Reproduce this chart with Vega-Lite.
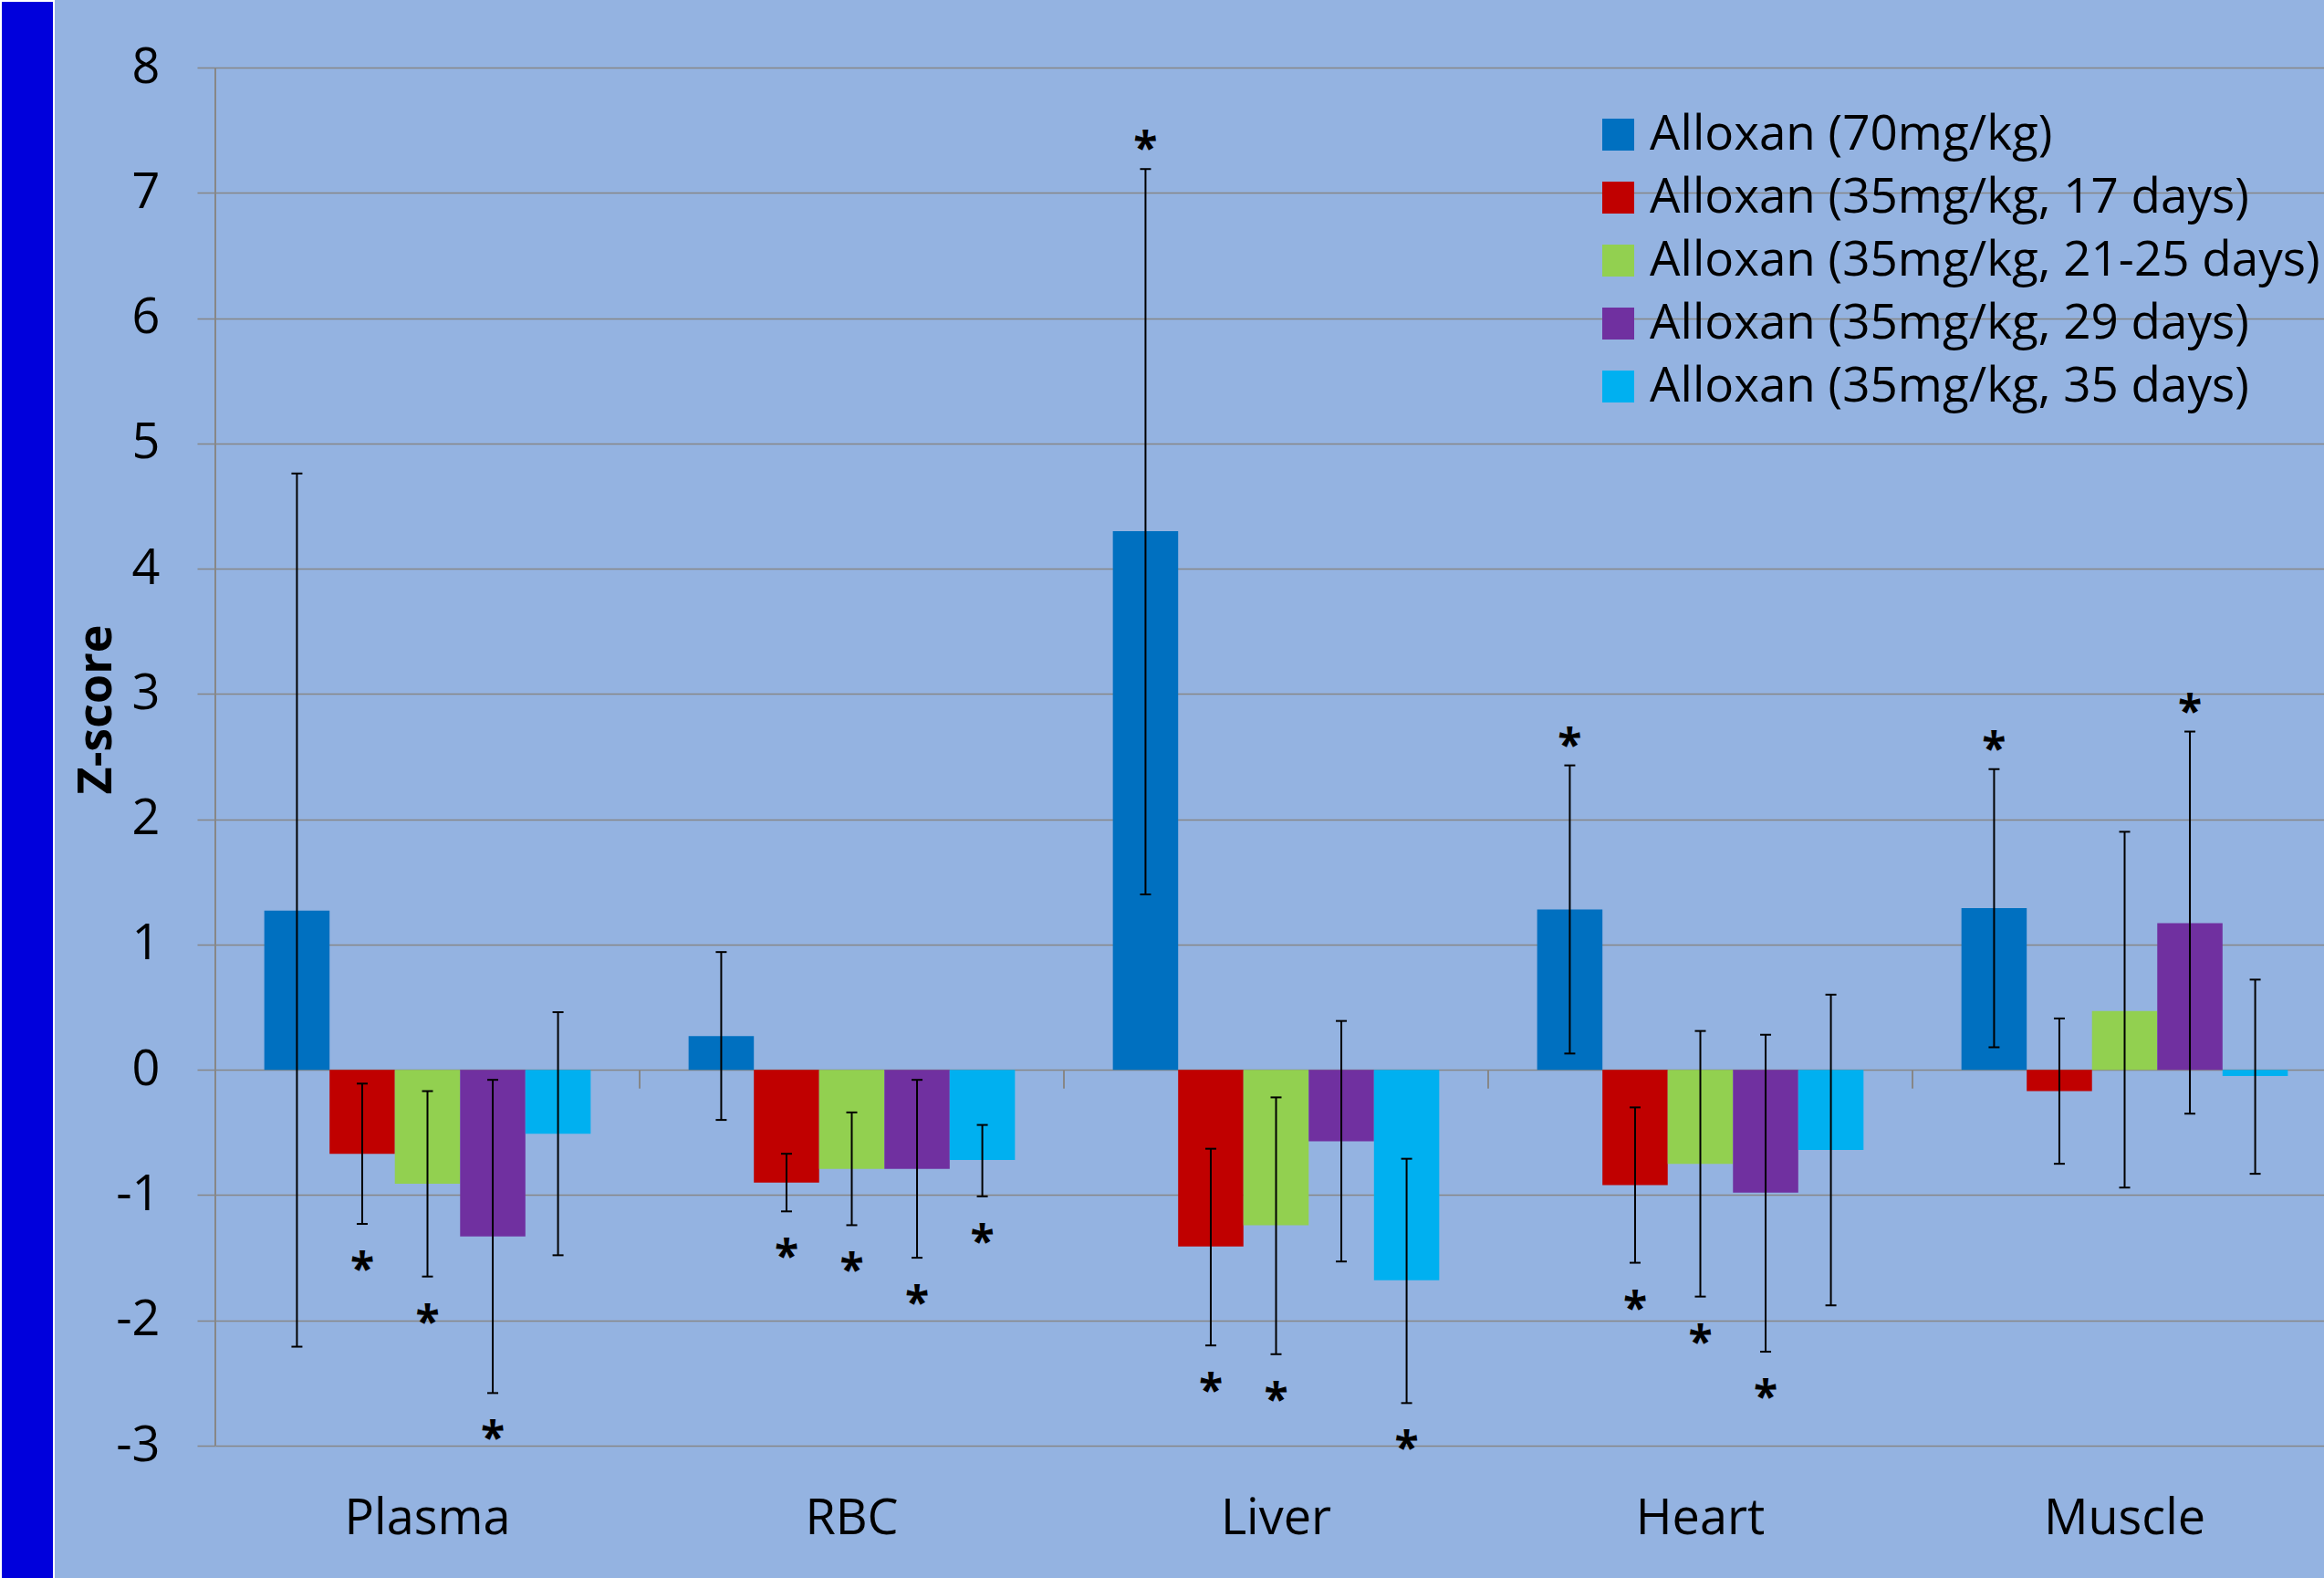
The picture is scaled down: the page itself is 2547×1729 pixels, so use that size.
{
  "$schema": "https://vega.github.io/schema/vega-lite/v6.json",
  "background": "#94B3E1",
  "padding": 0,
  "autosize": {"type": "pad"},
  "bounds": "flush",
  "spacing": 177,
  "config": {
    "view": {"stroke": null},
    "font": "Open Sans",
    "axis": {"labelFont": "Open Sans", "labelColor": "black", "titleColor": "black"},
    "legend": {"labelFont": "Open Sans", "labelColor": "black"}
  },
  "hconcat": [
    {
      "width": 58,
      "height": 1729,
      "view": {"fill": "#0000DC", "stroke": "white", "strokeWidth": 2},
      "data": {"values": [{}]},
      "mark": {"type": "text"},
      "encoding": {"text": {"value": ""}}
    },
    {
      "width": 2312,
      "height": 1583,
      "data": {
        "values": [
          {"category": "Plasma", "group": "Alloxan (70mg/kg)", "mean": 1.27, "lo": -2.21, "hi": 4.76, "star": ""},
          {"category": "Plasma", "group": "Alloxan (35mg/kg, 17 days)", "mean": -0.67, "lo": -1.23, "hi": -0.11, "star": "below"},
          {"category": "Plasma", "group": "Alloxan (35mg/kg, 21-25 days)", "mean": -0.91, "lo": -1.65, "hi": -0.17, "star": "below"},
          {"category": "Plasma", "group": "Alloxan (35mg/kg, 29 days)", "mean": -1.33, "lo": -2.58, "hi": -0.08, "star": "below"},
          {"category": "Plasma", "group": "Alloxan (35mg/kg, 35 days)", "mean": -0.51, "lo": -1.48, "hi": 0.46, "star": ""},
          {"category": "RBC", "group": "Alloxan (70mg/kg)", "mean": 0.27, "lo": -0.40, "hi": 0.94, "star": ""},
          {"category": "RBC", "group": "Alloxan (35mg/kg, 17 days)", "mean": -0.90, "lo": -1.13, "hi": -0.67, "star": "below"},
          {"category": "RBC", "group": "Alloxan (35mg/kg, 21-25 days)", "mean": -0.79, "lo": -1.24, "hi": -0.34, "star": "below"},
          {"category": "RBC", "group": "Alloxan (35mg/kg, 29 days)", "mean": -0.79, "lo": -1.50, "hi": -0.08, "star": "below"},
          {"category": "RBC", "group": "Alloxan (35mg/kg, 35 days)", "mean": -0.72, "lo": -1.01, "hi": -0.44, "star": "below"},
          {"category": "Liver", "group": "Alloxan (70mg/kg)", "mean": 4.30, "lo": 1.40, "hi": 7.19, "star": "above"},
          {"category": "Liver", "group": "Alloxan (35mg/kg, 17 days)", "mean": -1.41, "lo": -2.20, "hi": -0.63, "star": "below"},
          {"category": "Liver", "group": "Alloxan (35mg/kg, 21-25 days)", "mean": -1.24, "lo": -2.27, "hi": -0.22, "star": "below"},
          {"category": "Liver", "group": "Alloxan (35mg/kg, 29 days)", "mean": -0.57, "lo": -1.53, "hi": 0.39, "star": ""},
          {"category": "Liver", "group": "Alloxan (35mg/kg, 35 days)", "mean": -1.68, "lo": -2.66, "hi": -0.71, "star": "below"},
          {"category": "Heart", "group": "Alloxan (70mg/kg)", "mean": 1.28, "lo": 0.13, "hi": 2.43, "star": "above"},
          {"category": "Heart", "group": "Alloxan (35mg/kg, 17 days)", "mean": -0.92, "lo": -1.54, "hi": -0.30, "star": "below"},
          {"category": "Heart", "group": "Alloxan (35mg/kg, 21-25 days)", "mean": -0.75, "lo": -1.81, "hi": 0.31, "star": "below"},
          {"category": "Heart", "group": "Alloxan (35mg/kg, 29 days)", "mean": -0.98, "lo": -2.25, "hi": 0.28, "star": "below"},
          {"category": "Heart", "group": "Alloxan (35mg/kg, 35 days)", "mean": -0.64, "lo": -1.88, "hi": 0.60, "star": ""},
          {"category": "Muscle", "group": "Alloxan (70mg/kg)", "mean": 1.29, "lo": 0.18, "hi": 2.40, "star": "above"},
          {"category": "Muscle", "group": "Alloxan (35mg/kg, 17 days)", "mean": -0.17, "lo": -0.75, "hi": 0.41, "star": ""},
          {"category": "Muscle", "group": "Alloxan (35mg/kg, 21-25 days)", "mean": 0.47, "lo": -0.94, "hi": 1.90, "star": ""},
          {"category": "Muscle", "group": "Alloxan (35mg/kg, 29 days)", "mean": 1.17, "lo": -0.35, "hi": 2.70, "star": "above"},
          {"category": "Muscle", "group": "Alloxan (35mg/kg, 35 days)", "mean": -0.05, "lo": -0.83, "hi": 0.72, "star": ""}
        ]
      },
      "encoding": {
        "x": {
          "field": "category", "type": "nominal", "sort": ["Plasma", "RBC", "Liver", "Heart", "Muscle"],
          "scale": {"paddingInner": 0, "paddingOuter": 0, "range": [0, 2325]},
          "axis": {"title": null, "domain": false, "ticks": false, "grid": false, "labelAngle": 0, "labelPadding": 53, "labelFontSize": 54, "labelLimit": 1000}
        }
      },
      "layer": [
        {
          "mark": {"type": "bar"},
          "encoding": {
            "xOffset": {"field": "group", "type": "nominal", "sort": ["Alloxan (70mg/kg)", "Alloxan (35mg/kg, 17 days)", "Alloxan (35mg/kg, 21-25 days)", "Alloxan (35mg/kg, 29 days)", "Alloxan (35mg/kg, 35 days)"], "scale": {"paddingInner": 0, "paddingOuter": 0.75}},
            "y": {
              "field": "mean", "type": "quantitative", "title": "Z-score",
              "scale": {"domain": [-3, 8.532], "nice": false, "zero": false},
              "axis": {
                "values": [-3, -2, -1, 0, 1, 2, 3, 4, 5, 6, 7, 8],
                "labelExpr": "'' + datum.value",
                "grid": true, "gridColor": "#878787", "gridWidth": 1.5,
                "ticks": true, "tickSize": 20, "tickColor": "#878787", "tickWidth": 1.5,
                "domain": false, "labelPadding": 41, "labelFontSize": 54,
                "labelFlush": false, "labelOverlap": false,
                "titleFont": "Open Sans", "titleFontWeight": "bold", "titleFontSize": 52,
                "titleX": -131, "titleY": 776, "titleAngle": -90, "titleBaseline": "middle", "titleAlign": "center"
              }
            },
            "color": {
              "field": "group", "type": "nominal",
              "scale": {
                "domain": ["Alloxan (70mg/kg)", "Alloxan (35mg/kg, 17 days)", "Alloxan (35mg/kg, 21-25 days)", "Alloxan (35mg/kg, 29 days)", "Alloxan (35mg/kg, 35 days)"],
                "range": ["#0070C0", "#C00000", "#92D050", "#7030A0", "#00B0F0"]
              },
              "legend": {
                "orient": "none", "legendX": 1746, "legendY": 120, "title": null,
                "symbolType": "square", "symbolSize": 1225, "symbolStrokeWidth": 0,
                "labelFontSize": 53, "labelOffset": 8, "rowPadding": 15, "labelLimit": 1000, "padding": 0
              }
            }
          }
        },
        {
          "mark": {"type": "rule", "color": "black", "strokeWidth": 2},
          "encoding": {
            "xOffset": {"field": "group", "type": "nominal", "sort": ["Alloxan (70mg/kg)", "Alloxan (35mg/kg, 17 days)", "Alloxan (35mg/kg, 21-25 days)", "Alloxan (35mg/kg, 29 days)", "Alloxan (35mg/kg, 35 days)"]},
            "y": {"field": "lo", "type": "quantitative", "title": "Z-score"},
            "y2": {"field": "hi"}
          }
        },
        {
          "mark": {"type": "tick", "color": "black", "size": 12, "thickness": 2, "opacity": 1},
          "encoding": {
            "xOffset": {"field": "group", "type": "nominal", "sort": ["Alloxan (70mg/kg)", "Alloxan (35mg/kg, 17 days)", "Alloxan (35mg/kg, 21-25 days)", "Alloxan (35mg/kg, 29 days)", "Alloxan (35mg/kg, 35 days)"]},
            "y": {"field": "lo", "type": "quantitative", "title": "Z-score"}
          }
        },
        {
          "mark": {"type": "tick", "color": "black", "size": 12, "thickness": 2, "opacity": 1},
          "encoding": {
            "xOffset": {"field": "group", "type": "nominal", "sort": ["Alloxan (70mg/kg)", "Alloxan (35mg/kg, 17 days)", "Alloxan (35mg/kg, 21-25 days)", "Alloxan (35mg/kg, 29 days)", "Alloxan (35mg/kg, 35 days)"]},
            "y": {"field": "hi", "type": "quantitative", "title": "Z-score"}
          }
        },
        {
          "transform": [{"filter": "datum.star == 'above'"}],
          "mark": {"type": "text", "text": "*", "font": "Open Sans", "fontWeight": "bold", "fontSize": 48, "color": "black", "baseline": "alphabetic", "dy": -6},
          "encoding": {
            "xOffset": {"field": "group", "type": "nominal", "sort": ["Alloxan (70mg/kg)", "Alloxan (35mg/kg, 17 days)", "Alloxan (35mg/kg, 21-25 days)", "Alloxan (35mg/kg, 29 days)", "Alloxan (35mg/kg, 35 days)"]},
            "y": {"field": "hi", "type": "quantitative", "title": "Z-score"}
          }
        },
        {
          "transform": [{"filter": "datum.star == 'below'"}],
          "mark": {"type": "text", "text": "*", "font": "Open Sans", "fontWeight": "bold", "fontSize": 48, "color": "black", "baseline": "alphabetic", "dy": 66},
          "encoding": {
            "xOffset": {"field": "group", "type": "nominal", "sort": ["Alloxan (70mg/kg)", "Alloxan (35mg/kg, 17 days)", "Alloxan (35mg/kg, 21-25 days)", "Alloxan (35mg/kg, 29 days)", "Alloxan (35mg/kg, 35 days)"]},
            "y": {"field": "lo", "type": "quantitative", "title": "Z-score"}
          }
        },
        {
          "mark": {"type": "rule", "color": "#878787", "strokeWidth": 1.5},
          "encoding": {
            "x": {"field": "category", "type": "nominal", "bandPosition": 0},
            "y": {"datum": 0, "type": "quantitative"},
            "y2": {"datum": -0.146}
          }
        },
        {
          "mark": {"type": "rule", "color": "#878787", "strokeWidth": 1.5},
          "encoding": {
            "x": {"datum": "Plasma", "type": "nominal", "bandPosition": 0},
            "y": {"datum": -3, "type": "quantitative"},
            "y2": {"datum": 8}
          }
        }
      ]
    }
  ]
}
